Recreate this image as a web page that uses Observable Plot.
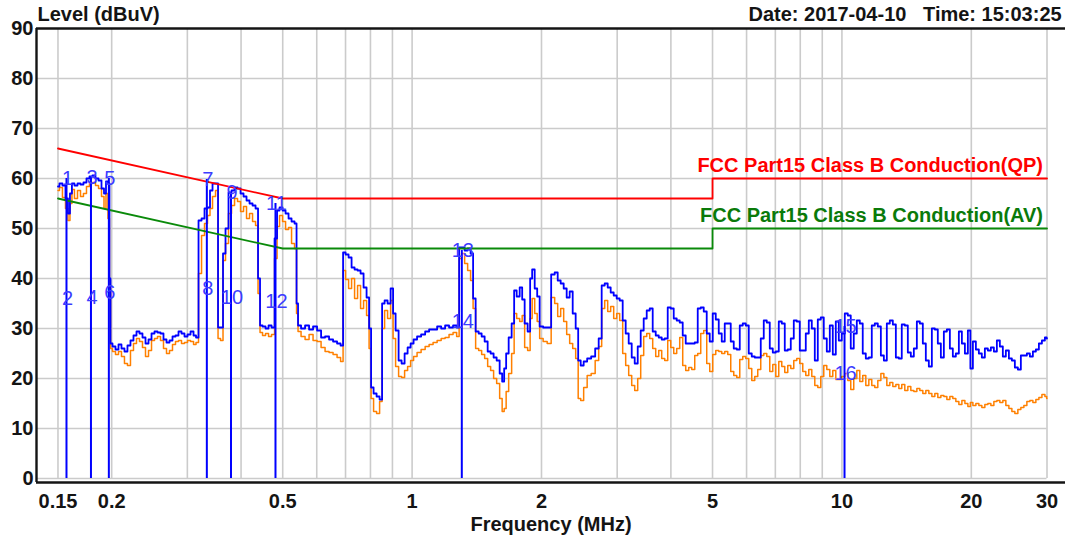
<!DOCTYPE html>
<html>
<head>
<meta charset="utf-8">
<script src="https://cdn.jsdelivr.net/npm/d3@7"></script>
<script src="https://cdn.jsdelivr.net/npm/@observablehq/plot@0.6"></script>
<style>
  html, body { margin: 0; padding: 0; background: #ffffff; }
  #chart svg { display: block; }
</style>
</head>
<body>
<div id="chart"></div>
<script>
// ---- Data ----
const freqMHz = [
  0.150,0.1524,0.1549,0.1574,0.1591,0.1608,0.1625,0.1652,0.1679,0.1706,0.1733,0.1762,0.1790,0.1819,0.1849,0.1879,0.1909,0.1930,0.1950,0.1971,0.1982,0.1993,
  0.2025,0.2058,0.2091,0.2125,0.2159,0.2194,0.2230,0.2266,0.2303,0.2340,0.2378,0.2417,0.2456,0.2496,0.2536,0.2577,0.2619,0.2661,0.2705,0.2748,0.2793,0.2838,0.2884,0.2931,0.2978,0.3027,0.3076,0.3126,0.3159,
  0.3211,0.3263,0.3315,0.3369,0.3405,0.3461,0.3517,0.3555,0.3612,0.3651,0.3710,0.3770,0.3832,0.3894,0.3957,0.4021,0.4086,0.4152,0.4220,0.4288,0.4358,0.4404,0.4452,0.4524,0.4597,0.4672,0.4748,0.4825,0.4877,0.4956,0.5036,0.5118,0.5200,0.5285,0.5370,0.5399,
  0.5457,0.5576,0.5697,0.5820,0.5946,0.6075,0.6207,0.6341,0.6478,0.6619,0.6762,0.6872,0.6946,0.7059,0.7173,0.7289,0.7407,0.7527,0.7649,0.7773,0.7899,0.7985,0.8070,0.8201,0.8334,0.8470,0.8561,0.8699,0.8840,0.8984,0.9081,0.9228,0.9377,0.9529,0.9684,0.9841,
  1.000,1.016,1.038,1.061,1.084,1.107,1.131,1.156,1.181,1.206,1.232,1.259,1.280,1.293,1.314,1.336,1.357,1.379,1.394,1.417,1.440,1.463,1.487,1.511,1.535,1.560,1.586,1.611,1.629,1.646,1.664,1.691,1.718,1.737,1.765,1.794,1.813,1.842,1.872,1.892,1.913,1.944,1.965,1.996,
  2.040,2.084,2.129,2.164,2.199,2.234,2.271,2.307,2.345,2.383,2.421,2.448,2.487,2.527,2.582,2.638,2.695,2.739,2.783,2.829,2.874,2.921,2.968,3.016,3.065,3.115,3.165,3.217,3.269,3.322,3.376,3.430,3.486,3.543,3.600,3.658,3.718,3.778,3.839,3.901,3.965,
  4.029,4.094,4.160,4.228,4.296,4.366,4.437,4.509,4.582,4.656,4.732,4.808,4.886,4.965,5.046,5.128,5.211,5.295,5.381,5.468,5.557,5.647,5.739,5.832,5.926,6.022,6.120,6.219,6.320,6.422,6.526,6.632,6.740,6.849,6.960,7.073,7.187,7.304,7.422,7.542,7.665,7.789,7.915,
  8.043,8.174,8.306,8.441,8.578,8.717,8.858,9.001,9.147,9.296,9.446,9.599,9.755,9.913,10.07,10.24,10.40,10.57,10.74,10.92,11.09,11.27,11.46,11.64,11.83,12.02,12.22,12.42,12.62,12.82,13.03,13.24,13.46,13.67,13.89,14.12,14.35,14.58,14.82,15.06,15.30,15.55,15.80,
  16.06,16.32,16.58,16.85,17.13,17.40,17.69,17.97,18.26,18.56,18.86,19.17,19.48,19.79,20.01,20.33,20.66,20.99,21.33,21.68,22.03,22.39,22.75,23.12,23.49,23.87,24.26,24.66,25.05,25.46,25.87,26.29,26.72,27.15,27.59,28.04,28.49,28.96,29.43,29.90,30.0
];
const peakLevel = [
  58.4,59,58.6,56,53,57,59,58.6,59,58.8,59.2,60,60.4,60.6,60,59.6,58,57,59.4,59,40,27,
  26.4,25.8,26.8,26,25.4,26.6,27.6,28.6,29.4,29,28.2,27,27.8,29,29.4,29.2,29,27.8,27.2,27.6,28.4,28.6,29.4,29,28.4,28.8,29.4,28.6,28.2,
  51.6,52,54,54.2,57.6,59,59,30.2,30.2,45,50,57.2,57.6,58.2,58,57,56.4,55.6,55,54.6,54,40,30.6,30.4,30,30.6,30.2,48,53.6,54.2,53.6,53,52,51.4,51,35,
  30.6,30,30.6,29.8,30.4,29.6,28.2,28.4,27.8,27.4,27,26.6,45.2,44.8,44.2,42.2,41.8,41.6,41,38.2,36.2,30,18.2,17,16.4,15.8,35,35.6,35,38,33,29.6,23.6,23,25,26.2,
  27,27.8,28.4,28.8,29.4,29.8,29.8,30.4,30,30.6,30.2,30.6,30.2,46.2,46.2,45.6,46,45,36,29.4,29,28.4,27.4,25.4,25,24.2,23.6,21,19.4,22,25,28.2,31,37.6,36.4,38.2,35.8,31,29.4,40,41.8,38,36.4,30.4,
  30.2,30.2,40.8,41.2,39.6,39,38,36.2,37.4,33,30,23.6,22.6,23.4,24,24.4,26,28,38.6,39,38.2,37.2,36.6,36,35.6,31.6,29,27,24.2,23,26.4,29.6,32,33.6,34,29.4,28.6,28.2,27.8,28,34.2,
  34,32,31.6,31.2,28.6,27,27,27,27.2,34,34.2,33.4,29,27.4,33,31.8,29,27.4,31,31,27.4,26,25.8,30.6,31,30.6,25,24.4,24.2,24.2,28,31.6,31.2,26,25.2,25.4,31.4,31,25.6,25.8,28,31.6,31.4,
  25.6,25.6,29,31.6,30,23.6,31.8,32.2,28,25.4,30.6,24.8,31.4,27.6,29,33,32.6,26,29,31.6,31,25,24,24.2,30.6,31,30.4,24.6,23.6,31,31.6,30.8,24.2,24,30.8,30.6,25.2,24.4,26,31.4,31,27,23.6,
  22.4,30,29.8,27,24.2,29.4,29.8,26,24.4,25,29.4,27,25,29.6,22,27.4,25.8,25,24.2,26,25.6,26.2,25.4,27.6,26.4,24.4,25.6,24,23.6,22.2,21.8,24.6,24.6,25,24.4,25.4,25.8,27,27.6,28.2,28
];
const avgLevel = [
  57.6,58.2,56.2,54,51.6,55,57.8,56,57.6,56.4,57,58.4,59,59.2,58.6,58,56.4,54,57,52,38,26,
  25.4,24.8,25.4,24.4,23,22.6,25.6,27,28,27.4,26.2,24.4,25.6,27.6,28,28.4,27.6,26,25,25.6,26.8,27.4,27.6,27,27.2,27.6,27.4,26.8,27.2,
  41,48.6,51,52.6,54,56.4,57.6,28,27.6,43.6,47,53,54.6,56,55.4,53.4,54.4,52,53,51.4,50.6,37,29.2,28.6,29,28.4,28.8,44,50.4,52.6,51.4,49.8,50.2,47,46,33,
  29.4,28.4,27.8,28.8,27.6,27.4,26.2,25.4,25.2,24.8,24.2,23.4,41.6,39.8,38,40,36,38.6,34,35.6,32.6,26,16,13.4,13,15.4,30,33.6,32,35.6,28,22.4,20.4,20.2,21.6,22.4,
  23.6,24.4,25.2,25.8,26.4,26.8,27.2,27.6,28,28.2,28.8,29.2,28.4,44,45,43,41.6,39.6,34,26,25.6,24.8,24,22.4,21.6,20,19,16,13.4,14,17.4,21,25,33,32,31.4,32.6,26.2,25.6,32,36,33,31.4,28,
  27.4,27,36.2,35,32.4,34,31.4,28.8,27,26,24,16,15.6,18.2,20.6,21,23.6,26.4,34,35.6,33.4,34.4,32,33,31.6,25,22.6,20.6,18.6,17.6,20,24.6,28.4,29,28,26,24.4,25.6,24,23.6,27.6,
  26.2,25,26,28.2,22.6,21.6,22.2,21.8,24.6,25,29,29.6,23,21.4,24.8,25.6,25.4,25,25.4,24.8,21.4,20.6,20.2,23.8,24.4,24,22,19.6,20.4,21.8,24.6,25,24.4,21.4,22.8,20.4,23.4,22.4,21.2,22.6,22,23.6,24,
  23,21.4,20.6,21.8,20.4,18.6,18.2,20.4,22.6,21.8,20.4,21.6,19.8,19.8,20.4,21,19.6,17.8,20,21.6,19.4,20.6,18.6,19.8,18.6,18.2,19.6,21,20.2,18.6,19.2,18.4,18.8,18,18.8,17.6,18.4,17.6,17.4,18,17.6,17,17.6,
  17,16.4,17,16.2,16.6,16.4,15.8,16.4,16,15.4,14.8,15.6,15,14.4,15.2,14.6,15,14.6,14.2,14.8,15,14.6,15.4,15.6,15.2,15.6,14.6,14,13.4,13,13.8,14.2,14.6,15.4,15.6,15.2,15.8,16.2,16.8,16.4,16
];

// FCC Part 15 Class B limit lines
const limitFreq = [0.15, 0.5, 5, 5, 30];
const qpLimit   = [66, 56, 56, 60, 60];
const avLimit   = [56, 46, 46, 50, 50];
const qpLabel = "FCC Part15 Class B Conduction(QP)";
const avLabel = "FCC Part15 Class B Conduction(AV)";

// Markers (frequency, QP level, AV level, labels)
const markerFreq    = [0.157, 0.179, 0.197, 0.333, 0.379, 0.481, 1.305, 10.14];
const markerQP      = [60, 60.2, 60, 59.8, 57.2, 55, 45.6, 30.4];
const markerAV      = [36, 36.2, 37.2, 38, 36.2, 35.4, 31.4, 21];
const markerQPLabel = ["1","3","5","7","9","11","13","15"];
const markerAVLabel = ["2","4","6","8","10","12","14","16"];

// Axes / grid
const xDomain = [0.1337, 30];
const yDomain = [-0.8, 90];
const xTickValues = [0.15, 0.2, 0.5, 1, 2, 5, 10, 20, 30];
const gridFreq = [0.15,0.2,0.3,0.4,0.5,0.6,0.7,0.8,0.9,1,2,3,4,5,6,7,8,9,10,20,30];
const yTickValues = [0,10,20,30,40,50,60,70,80,90];
const gridLevels = [0,10,20,30,40,50,60,70,80];
const yTitle = "Level (dBuV)";
const xTitle = "Frequency (MHz)";
const dateText = "Date: 2017-04-10\u00a0\u00a0 Time: 15:03:25";

// ---- Build tables ----
const trace = freqMHz.map((f, i) => ({f, pk: peakLevel[i], av: avgLevel[i]}));
const limits = limitFreq.map((f, i) => ({f, qp: qpLimit[i], av: avLimit[i]}));
const markers = markerFreq.map((f, i) => ({f, qp: markerQP[i], av: markerAV[i], ql: markerQPLabel[i], al: markerAVLabel[i]}));

const FONT = "'Liberation Sans', Arial, Helvetica, sans-serif";
const TXT = "#141414";

const chart = Plot.plot({
  width: 1065,
  height: 535,
  marginLeft: 36,
  marginRight: 0,
  marginTop: 28,
  marginBottom: 53,
  x: {type: "log", domain: xDomain, range: [36, 1046.5]},
  y: {domain: yDomain},
  style: {fontFamily: FONT, fontSize: "20px", fontWeight: "bold", background: "#ffffff", overflow: "visible"},
  marks: [
    // grid
    Plot.ruleX(gridFreq, {y1: 0, y2: 90, stroke: "#cbcbcb", strokeWidth: 1.6}),
    Plot.ruleY(gridLevels, {x1: xDomain[0], x2: 30, stroke: "#cbcbcb", strokeWidth: 1.6}),
    // frame (top, left, bottom)
    Plot.ruleY([yDomain[1]], {stroke: TXT, strokeWidth: 2.4}),
    Plot.ruleY([yDomain[0]], {stroke: TXT, strokeWidth: 2.4}),
    Plot.ruleX([xDomain[0]], {stroke: TXT, strokeWidth: 2.4}),
    // axes
    Plot.axisX(xTickValues, {tickSize: 0, tickPadding: 11, tickFormat: d => String(d), label: null, fontSize: 20, fontWeight: "bold", fill: TXT}),
    Plot.axisY(yTickValues, {tickSize: 0, tickPadding: 3, label: null, fontSize: 20, fontWeight: "bold", fill: TXT}),
    // traces
    Plot.line(trace, {x: "f", y: "av", stroke: "#ff8000", strokeWidth: 1.5, curve: "step"}),
    Plot.line(trace, {x: "f", y: "pk", stroke: "#0000ff", strokeWidth: 1.8, curve: "step"}),
    // limit lines
    Plot.line(limits, {x: "f", y: "qp", stroke: "#ff0000", strokeWidth: 1.8}),
    Plot.line(limits, {x: "f", y: "av", stroke: "#0a8a0a", strokeWidth: 1.8}),
    Plot.text([qpLabel], {x: limitFreq[limitFreq.length - 1], y: qpLimit[qpLimit.length - 1], textAnchor: "end", lineAnchor: "middle", dx: -4, dy: -13, fill: "#ff0000", fontSize: 20}),
    Plot.text([avLabel], {x: limitFreq[limitFreq.length - 1], y: avLimit[avLimit.length - 1], textAnchor: "end", lineAnchor: "middle", dx: -4, dy: -13, fill: "#0a7a0a", fontSize: 20}),
    // markers
    Plot.ruleX(markers, {x: "f", y1: 0, y2: "qp", stroke: "#0000ff", strokeWidth: 2}),
    Plot.text(markers, {x: "f", y: "qp", text: "ql", dx: 1, lineAnchor: "middle", fill: "#3c3cff", fontSize: 20, fontWeight: "normal"}),
    Plot.text(markers, {x: "f", y: "av", text: "al", dx: 1, lineAnchor: "middle", fill: "#3c3cff", fontSize: 20, fontWeight: "normal"}),
    // titles
    Plot.text([yTitle], {frameAnchor: "top-left", textAnchor: "start", lineAnchor: "middle", dx: 1, dy: -14, fill: TXT, fontSize: 20}),
    Plot.text([dateText], {frameAnchor: "top-left", textAnchor: "start", lineAnchor: "middle", dx: 712, dy: -14, fill: TXT, fontSize: 20}),
    Plot.text([xTitle], {frameAnchor: "bottom", lineAnchor: "middle", dy: 42, fill: TXT, fontSize: 20})
  ]
});
document.getElementById("chart").appendChild(chart);
</script>
</body>
</html>
